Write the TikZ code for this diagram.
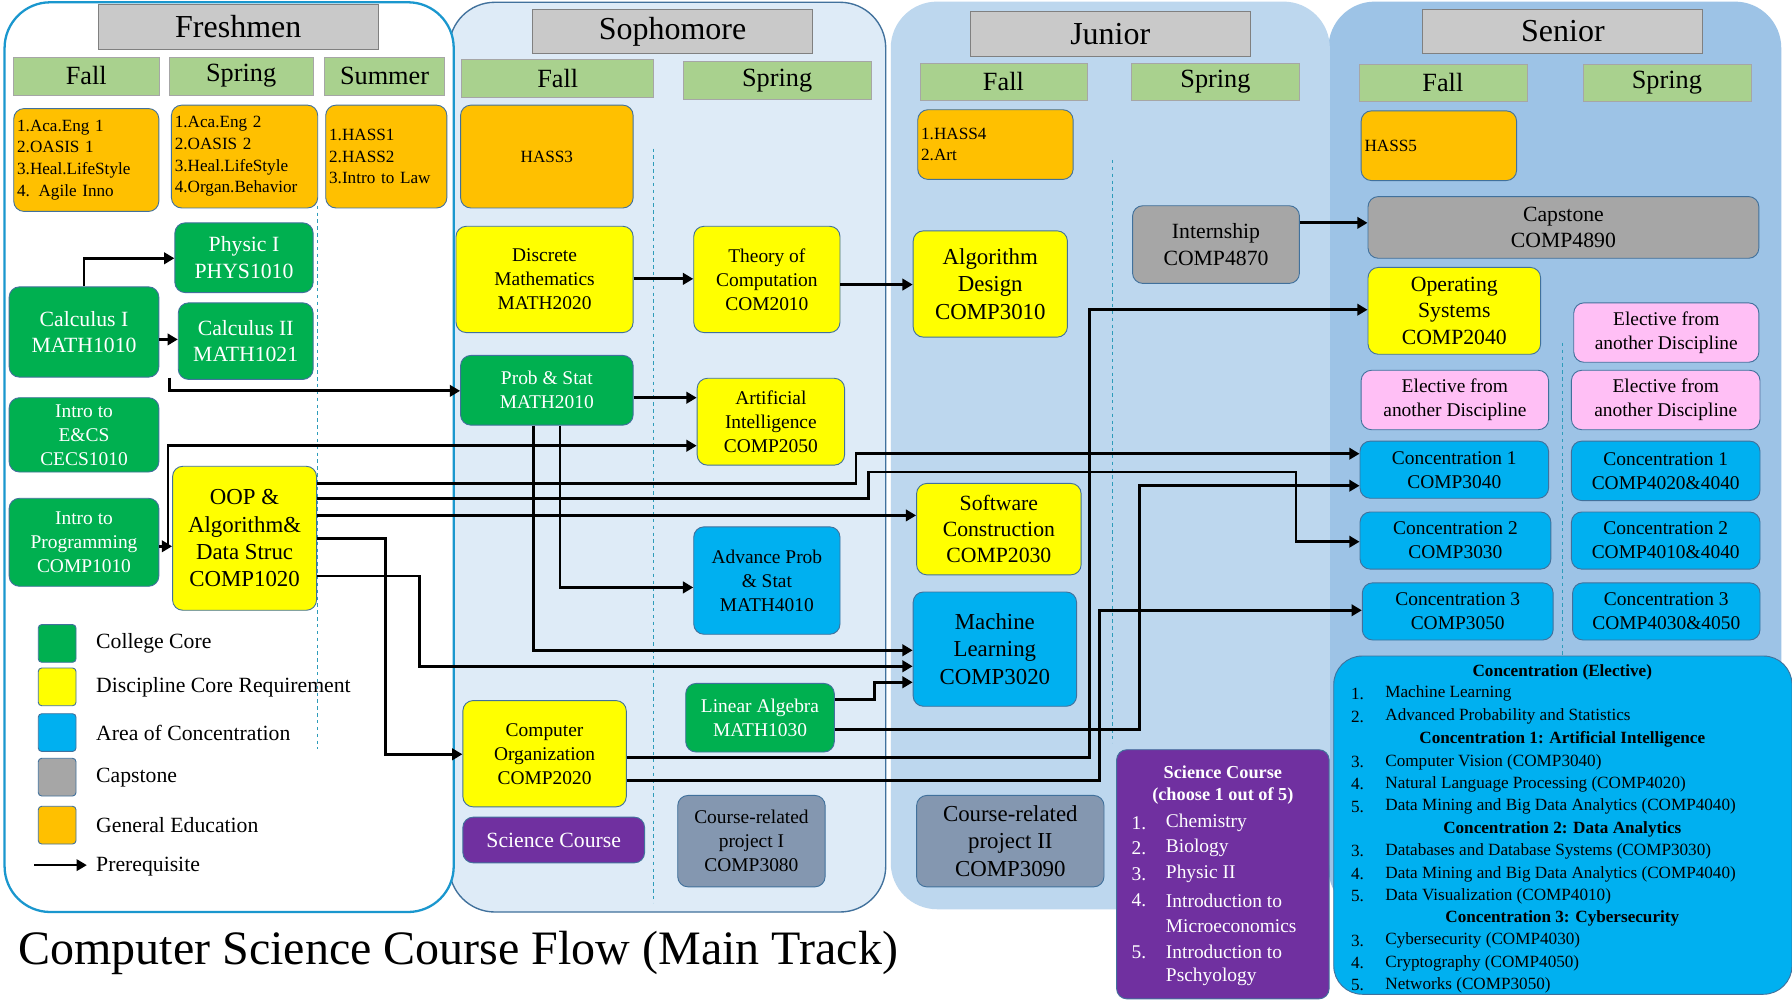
\documentclass[tikz,border=0pt]{standalone}
\usepackage{fontspec}
\setmainfont{Liberation Serif}
\usetikzlibrary{arrows.meta}
\definecolor{cgreen}{HTML}{00B050}
\definecolor{cyel}{HTML}{FFFF00}
\definecolor{cblue}{HTML}{00B0F0}
\definecolor{cgray}{HTML}{A6A6A6}
\definecolor{corange}{HTML}{FFC000}
\definecolor{cpink}{HTML}{FFBFF5}
\definecolor{cpurple}{HTML}{7030A0}
\definecolor{cslate}{HTML}{8497B0}
\definecolor{cseason}{HTML}{A9D18E}
\definecolor{chead}{HTML}{C9C9C9}
\definecolor{pfr}{HTML}{FFFFFF}
\definecolor{pso}{HTML}{DEEBF7}
\definecolor{pju}{HTML}{BDD7EE}
\definecolor{pse}{HTML}{9DC3E6}
\definecolor{bord}{HTML}{41719C}
\newcommand{\fs}[1]{\fontsize{#1}{\the\numexpr#1+4\relax}\selectfont}
\newcommand{\bx}[7]{\node[#6, minimum width=#4pt-#2pt, minimum height=#5pt-#3pt] (#1) at ({(#2+#4)/2},{(#3+#5)/2}) {#7};}
\tikzset{
  box/.style={rounded corners=9pt, draw=bord, line width=0.8pt, inner sep=2pt, align=center},
  gbox/.style={box, fill=cgreen, text=white, font=\fs{19}},
  ybox/.style={box, fill=cyel, font=\fs{18}},
  bbox/.style={box, fill=cblue, font=\fs{18}},
  grbox/.style={box, fill=cgray, font=\fs{19}},
  sbox/.style={box, fill=cslate, font=\fs{18}},
  obox/.style={box, fill=corange, font=\fs{15}},
  olist/.style={obox, align=left, text width=#1, inner sep=3pt},
  pbox/.style={box, fill=cpink, font=\fs{18}},
  head/.style={draw=gray, line width=0.8pt, fill=chead, font=\fs{28}},
  season/.style={draw=gray!70, line width=0.6pt, fill=cseason, font=\fs{23}},
  panel/.style={rounded corners=40pt, line width=1.2pt},
  arr/.style={line width=2.5pt, -{Triangle[length=9pt,width=10pt]}},
  dsh/.style={dashed, draw=bord!70!cyan, line width=0.6pt},
  ctext/.style={font=\fs{15}, inner sep=0pt, anchor=west},
}
\begin{document}
\begin{tikzpicture}[x=1pt,y=-1pt]
\useasboundingbox (0,0) rectangle (1568,882);
\fill[white] (0,0) rectangle (1568,882);
% panels
\draw[panel, fill=pse, draw=pse] (1163,2) rectangle (1558,800);
\draw[panel, fill=pju, draw=pju] (780,2) rectangle (1163,795);
\draw[panel, fill=pso, draw=bord] (393,2) rectangle (775,798);
\draw[panel, fill=pfr, draw=cblue!60!bord, line width=2pt] (4,2) rectangle (397,798);
% dashed lines
\draw[dsh] (278,180) -- (278,655);
\draw[dsh] (572,130) -- (572,790);
\draw[dsh] (973,140) -- (973,650);
\draw[dsh] (1367,300) -- (1367,575);
% headers
\bx{hfr}{86}{4}{331}{43}{head}{Freshmen}
\bx{hso}{466}{8}{711}{47}{head}{Sophomore}
\bx{hju}{849}{10}{1094}{49}{head}{Junior}
\bx{hse}{1245}{8}{1490}{47}{head}{Senior}
\bx{s1}{12}{50}{139}{83}{season}{Fall}
\bx{s2}{148}{50}{274}{83}{season}{Spring}
\bx{s3}{284}{50}{389}{83}{season}{Summer}
\bx{s4}{404}{52}{572}{85}{season}{Fall}
\bx{s5}{598}{54}{762}{87}{season}{Spring}
\bx{s6}{805}{55}{951}{88}{season}{Fall}
\bx{s7}{990}{55}{1137}{88}{season}{Spring}
\bx{s8}{1189}{56}{1336}{89}{season}{Fall}
\bx{s9}{1385}{56}{1532}{89}{season}{Spring}
% orange
\bx{ge1}{12}{95}{139}{185}{olist=121pt}{1.Aca.Eng 1\\2.OASIS 1\\3.Heal.LifeStyle\\4. Agile Inno}
\bx{ge2}{151}{92}{277}{182}{olist=122pt}{1.Aca.Eng 2\\2.OASIS 2\\3.Heal.LifeStyle\\4.Organ.Behavior}
\bx{ge3}{285}{92}{391}{182}{olist=100pt}{1.HASS1\\2.HASS2\\3.Intro to Law}
\bx{hass3}{403}{92}{554}{182}{obox}{HASS3}
\bx{hass4}{803}{96}{939}{157}{olist=130pt}{1.HASS4\\2.Art}
\bx{hass5}{1191}{97}{1327}{158}{olist=130pt}{HASS5}
% green
\bx{phys}{153}{195}{274}{256}{gbox}{Physic I\\PHYS1010}
\bx{calc1}{8}{251}{139}{330}{gbox}{Calculus I\\MATH1010}
\bx{calc2}{156}{265}{274}{332}{gbox}{Calculus II\\MATH1021}
\bx{ecs}{8}{348}{139}{413}{gbox, font=\fs{17}}{Intro to\\E\&CS\\CECS1010}
\bx{prog}{8}{436}{139}{513}{gbox, font=\fs{17}}{Intro to\\Programming\\COMP1010}
\bx{prob}{403}{311}{554}{372}{gbox, font=\fs{17}}{Prob \& Stat\\MATH2010}
\bx{linalg}{600}{598}{730}{658}{gbox, font=\fs{17}}{Linear Algebra\\MATH1030}
% yellow
\bx{oop}{151}{408}{277}{534}{ybox, font=\fs{20}}{OOP \&\\Algorithm\&\\Data Struc\\COMP1020}
\bx{disc}{399}{198}{554}{291}{ybox, font=\fs{17}}{Discrete\\Mathematics\\MATH2020}
\bx{theo}{607}{198}{735}{291}{ybox, font=\fs{17}}{Theory of\\Computation\\COM2010}
\bx{ai}{610}{331}{739}{407}{ybox, font=\fs{17}}{Artificial\\Intelligence\\COMP2050}
\bx{corg}{405}{613}{548}{706}{ybox, font=\fs{17}}{Computer\\Organization\\COMP2020}
\bx{algo}{799}{202}{934}{295}{ybox, font=\fs{20}}{Algorithm\\Design\\COMP3010}
\bx{soft}{802}{423}{946}{503}{ybox, font=\fs{19}}{Software\\Construction\\COMP2030}
\bx{os}{1197}{234}{1348}{310}{ybox, font=\fs{19}}{Operating\\Systems\\COMP2040}
% blue
\bx{aprob}{607}{461}{735}{555}{bbox, font=\fs{17}}{Advance Prob\\\& Stat\\MATH4010}
\bx{ml}{799}{518}{942}{618}{bbox, font=\fs{20}}{Machine\\Learning\\COMP3020}
\bx{c1}{1190}{386}{1355}{436}{bbox, font=\fs{17}}{Concentration 1\\COMP3040}
\bx{c2}{1190}{448}{1357}{498}{bbox, font=\fs{17}}{Concentration 2\\COMP3030}
\bx{c3}{1192}{510}{1359}{560}{bbox, font=\fs{17}}{Concentration 3\\COMP3050}
\bx{c4}{1375}{386}{1540}{438}{bbox, font=\fs{17}}{Concentration 1\\COMP4020\&4040}
\bx{c5}{1375}{448}{1540}{498}{bbox, font=\fs{17}}{Concentration 2\\COMP4010\&4040}
\bx{c6}{1376}{510}{1540}{560}{bbox, font=\fs{17}}{Concentration 3\\COMP4030\&4050}
% gray
\bx{intern}{991}{180}{1137}{248}{grbox}{Internship\\COMP4870}
\bx{cap}{1197}{172}{1539}{226}{grbox}{Capstone\\COMP4890}
\bx{proj1}{593}{696}{722}{776}{sbox, font=\fs{17}}{Course-related\\project I\\COMP3080}
\bx{proj2}{802}{696}{966}{776}{sbox, font=\fs{20}}{Course-related\\project II\\COMP3090}
% pink
\bx{el1}{1377}{265}{1539}{317}{pbox, font=\fs{17}}{Elective from\\another Discipline}
\bx{el2}{1191}{324}{1355}{376}{pbox, font=\fs{17}}{Elective from\\another Discipline}
\bx{el3}{1375}{324}{1540}{376}{pbox, font=\fs{17}}{Elective from\\another Discipline}
% purple
\bx{sci}{405}{715}{564}{755}{box, fill=cpurple, text=white, font=\fs{19}}{Science Course}
\bx{scil}{977}{656}{1163}{874}{box, fill=cpurple}{}
\node[text=white, font=\bfseries\fs{16}, align=center] (scih) at (1070,687) {Science Course\\(choose 1 out of 5)};
\foreach \n/\t/\y in {1./Chemistry/720, 2./Biology/742, 3./Physic II/765, 4./Introduction to/788, /Microeconomics/810, 5./Introduction to/833, /Pschyology/855}{
  \node[ctext, text=white, font=\fs{17}] at (990,\y) {\n};
  \node[ctext, text=white, font=\fs{17}] at (1020,\y) {\t};
}
% concentration box
\bx{conc}{1167}{574}{1568}{870}{box, rounded corners=25pt, fill=cblue}{}
\foreach \y/\t in {588/Concentration (Elective), 647/Concentration 1: Artificial Intelligence, 726/Concentration 2: Data Analytics, 804/Concentration 3: Cybersecurity}{
  \node[font=\bfseries\fs{15}, inner sep=0pt] at (1367,\y) {\t};
}
\foreach \y/\n/\t in {607/1./Machine Learning, 627/2./Advanced Probability and Statistics, 667/3./Computer Vision (COMP3040), 686/4./Natural Language Processing (COMP4020), 706/5./Data Mining  and Big Data Analytics (COMP4040), 745/3./Databases and Database Systems (COMP3030), 765/4./Data Mining  and Big Data Analytics (COMP4040), 784/5./Data Visualization  (COMP4010), 823/3./Cybersecurity (COMP4030), 843/4./Cryptography (COMP4050), 862/5./Networks (COMP3050)}{
  \node[ctext] at (1182,\y) {\n};
  \node[ctext] at (1212,\y) {\t};
}
% legend
\foreach \y/\c/\t in {563/cgreen/College Core, 601/cyel/Discipline Core Requirement, 641/cblue/Area of Concentration, 680/cgray/Capstone/Thesis, 722/corange/General Education}{
  \node[box, rounded corners=3pt, fill=\c, minimum width=33pt, minimum height=33pt, inner sep=0pt] at (50,\y) {};
  \node[ctext, font=\fs{19}] at (84,\y) {\t};
}
\coordinate (la) at (30,757);
\coordinate (lb) at (76,757);
\draw[arr, line width=2pt] (la) -- (lb);
\node[ctext, font=\fs{19}] (lt) at (84,758) {Prerequisite};
% title
\node[anchor=west, font=\fs{42}, inner sep=0pt] (title) at (16,834) {Computer Science Course Flow (Main Track)};
% arrows
\draw[arr] (calc1.north) |- (phys.west |- 0,226);
\draw[arr] (calc1.east |- 0,297) -- (calc2.west |- 0,297);
\draw[arr] (calc1.south east) ++(9,0) |- (prob.west |- 0,342);
\draw[arr] (prog.east |- 0,478) -- (oop.west |- 0,478);
\draw[arr] (147,478) |- (ai.west |- 0,390);
\draw[arr] (disc.east |- 0,244) -- (theo.west |- 0,244);
\draw[arr] (theo.east |- 0,249) -- (algo.west |- 0,249);
\draw[arr] (prob.east |- 0,348) -- (ai.west |- 0,348);
\draw[arr] (prob.south -| 490,0) |- (aprob.west |- 0,514);
\draw[arr] (prob.south -| 467,0) |- (ml.west |- 0,569);
\draw[arr] (oop.east |- 0,423) -- (749,423) -- (749,397) -- (c1.west |- 0,397);
\draw[arr] (oop.east |- 0,436) -- (760,436) -- (760,413) -- (1134,413) -- (1134,474) -- (c2.west |- 0,474);
\draw[arr] (oop.east |- 0,451) -- (soft.west |- 0,451);
\draw[arr] (oop.east |- 0,504) -- (367,504) |- (ml.west |- 0,583);
\draw[arr] (oop.east |- 0,471) -- (337,471) |- (corg.west |- 0,660);
\draw[arr] (intern.east |- 0,195) -- (cap.west |- 0,195);
\draw[arr] (corg.east |- 0,663) -- (953,663) |- (os.west |- 0,271);
\draw[arr] (corg.east |- 0,683) -- (962,683) |- (c3.west |- 0,534);
\draw[arr] (linalg.east |- 0,638) -- (997,638) |- (c1.west |- 0,425);
\draw[arr] (linalg.east |- 0,612) -- (765,612) |- (ml.west |- 0,597);
\end{tikzpicture}
\end{document}
